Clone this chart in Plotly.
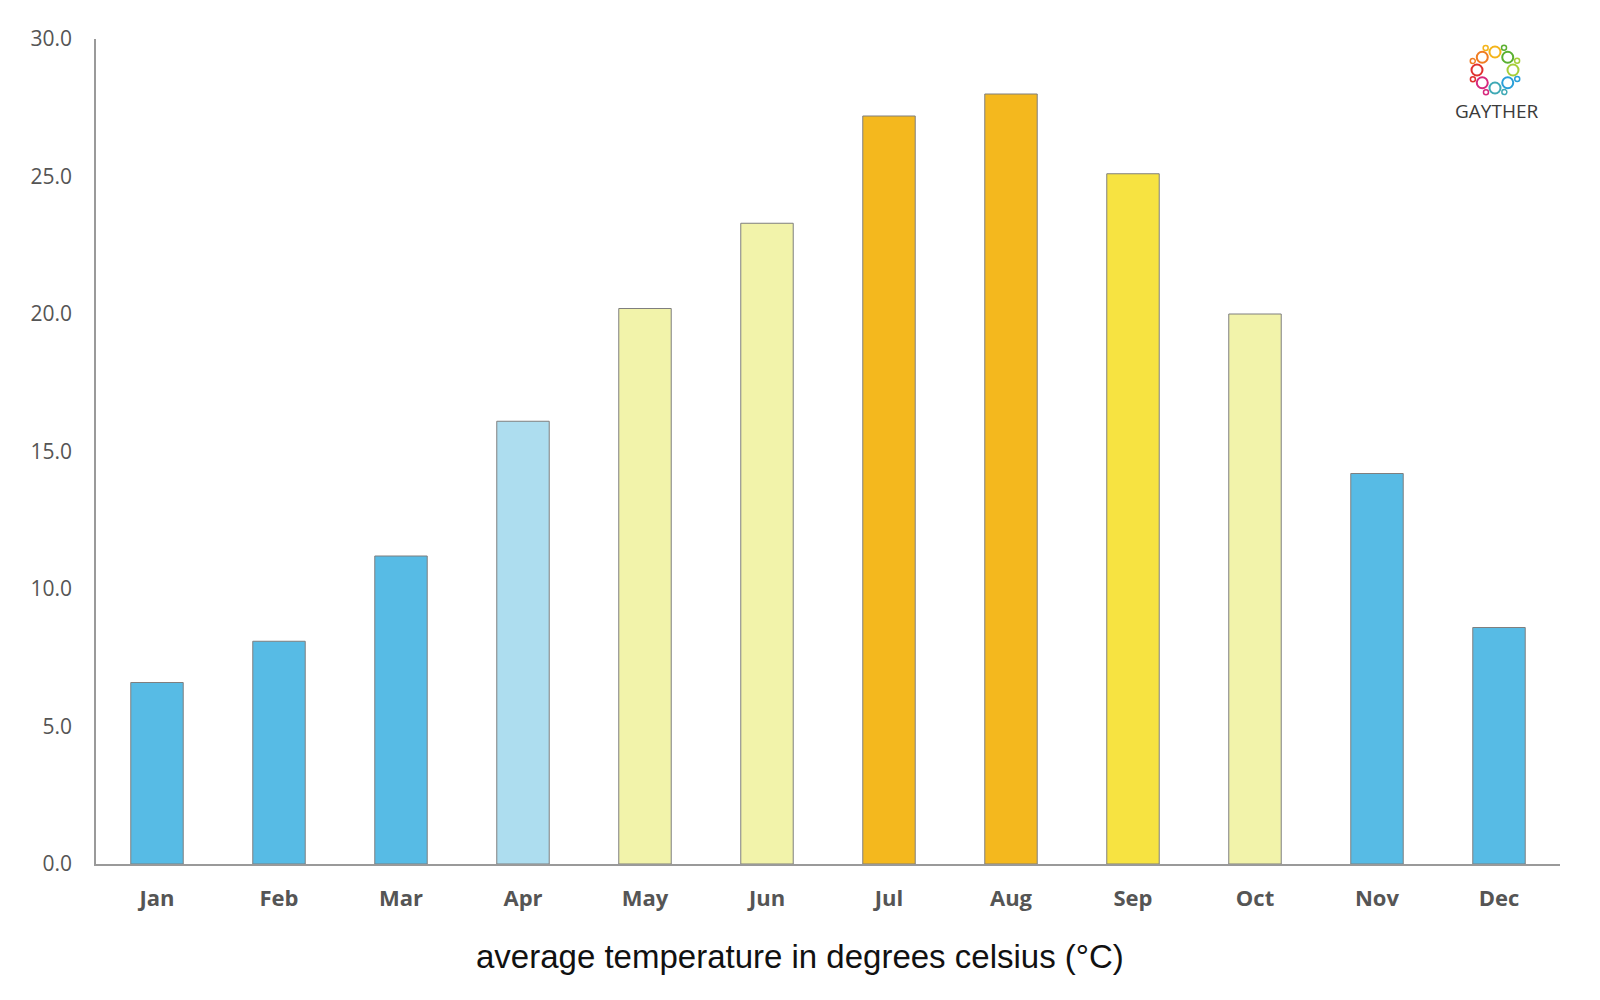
import math
import plotly.graph_objects as go

months = ["Jan", "Feb", "Mar", "Apr", "May", "Jun", "Jul", "Aug", "Sep", "Oct", "Nov", "Dec"]
avg_temp = [6.6, 8.1, 11.2, 16.1, 20.2, 23.3, 27.2, 28.0, 25.1, 20.0, 14.2, 8.6]
bar_colors = ["#57BBE5", "#57BBE5", "#57BBE5", "#ADDDEF", "#F2F3AA", "#F2F3AA",
              "#F4B81E", "#F4B81E", "#F7E341", "#F2F3AA", "#57BBE5", "#57BBE5"]
y_ticks = [0, 5, 10, 15, 20, 25, 30]
y_tick_labels = ["0.0", "5.0", "10.0", "15.0", "20.0", "25.0", "30.0"]
axis_title = "average temperature in degrees celsius (°C)"
logo_colors = ["#F4B41A", "#5BB031", "#A6CE39", "#2A9FD8", "#3FA9B5", "#D6297D", "#E0312F", "#F07C22"]

fig = go.Figure(go.Bar(
    x=months, y=avg_temp,
    marker=dict(color=bar_colors, line=dict(color="#7f7f7f", width=1)),
    width=0.43,
    hoverinfo="x+y",
))

OFF = 8  # page body margin
W, H = 1584, 984
ml, mt = 88, 31
pw, ph = 1464, 825
mr = W - ml - pw
mb = H - mt - ph

def px_to_paper(px, py):
    # px, py in screenshot coordinates
    return (px - OFF - ml) / pw, (mt + ph - (py - OFF)) / ph

shapes = []
cx, cy = 1495, 70
for i, c in enumerate(logo_colors):
    ang = math.pi / 2 - i * 2 * math.pi / len(logo_colors)
    x, y = px_to_paper(cx + 18 * math.cos(ang), cy - 18 * math.sin(ang))
    shapes.append(dict(type="circle", xref="paper", yref="paper",
                       xsizemode="pixel", ysizemode="pixel",
                       xanchor=x, yanchor=y, x0=-5.5, x1=5.5, y0=-5.5, y1=5.5,
                       line=dict(color=c, width=2), fillcolor="rgba(0,0,0,0)"))
    x2, y2 = px_to_paper(cx + 24 * math.cos(ang + 0.4), cy - 24 * math.sin(ang + 0.4))
    shapes.append(dict(type="circle", xref="paper", yref="paper",
                       xsizemode="pixel", ysizemode="pixel",
                       xanchor=x2, yanchor=y2, x0=-2.5, x1=2.5, y0=-2.5, y1=2.5,
                       line=dict(color=c, width=1.5), fillcolor="rgba(0,0,0,0)"))

tx, ty = px_to_paper(800, 956)
lx, ly = px_to_paper(1496, 111)

fig.update_layout(
    width=W, height=H,
    margin=dict(l=ml, r=mr, t=mt, b=mb, autoexpand=False),
    plot_bgcolor="white", paper_bgcolor="white",
    showlegend=False,
    shapes=shapes,
    xaxis=dict(
        showline=True, linecolor="#9a9a9a", linewidth=1.5,
        showgrid=False, ticks="", ticklabelstandoff=14,
        tickfont=dict(family="Open Sans, Lato, sans-serif", size=22, color="#555555", weight="bold"),
    ),
    yaxis=dict(
        range=[0, 30], showline=True, linecolor="#9a9a9a", linewidth=1.5,
        showgrid=False, zeroline=False, ticks="", ticklabelstandoff=18,
        tickvals=y_ticks, ticktext=y_tick_labels,
        tickfont=dict(family="Open Sans, Lato, sans-serif", size=21, color="#555555"),
    ),
    annotations=[
        dict(text=axis_title, xref="paper", yref="paper", x=tx, y=ty,
             xanchor="center", yanchor="middle", showarrow=False,
             font=dict(family="Liberation Sans, Arial, sans-serif", size=33, color="#111111")),
        dict(text="GAYTHER", xref="paper", yref="paper", x=lx, y=ly,
             xanchor="center", yanchor="middle", showarrow=False,
             font=dict(family="Open Sans, Lato, sans-serif", size=19, color="#3a3a3a")),
    ],
)

fig.write_html("out.html")
